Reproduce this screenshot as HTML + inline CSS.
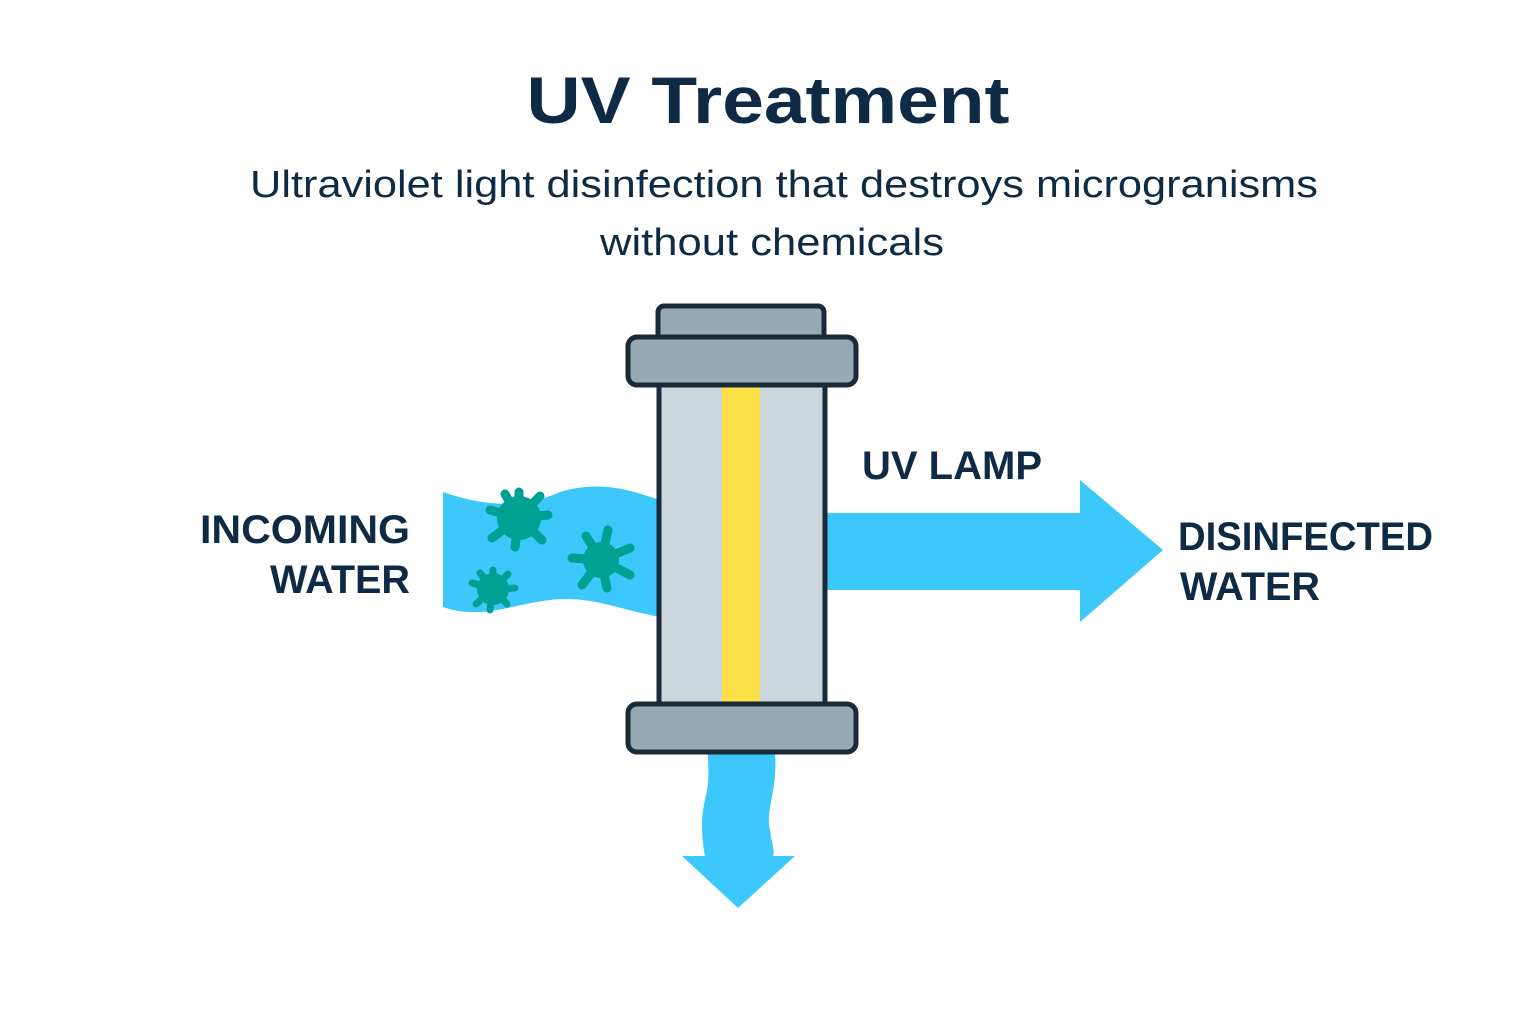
<!DOCTYPE html>
<html><head><meta charset="utf-8"><style>
html,body{margin:0;padding:0;background:#fff;}
body{width:1536px;height:1024px;overflow:hidden;}
</style></head><body>
<svg width="1536" height="1024" viewBox="0 0 1536 1024" xmlns="http://www.w3.org/2000/svg">
<rect width="1536" height="1024" fill="#fff"/>
<g font-family="Liberation Sans, DejaVu Sans, sans-serif" fill="#0f2a44" text-anchor="middle">
<text x="768" y="123" font-size="66" font-weight="bold" textLength="483" lengthAdjust="spacingAndGlyphs">UV Treatment</text>
<text x="784" y="197" font-size="38" textLength="1068" lengthAdjust="spacingAndGlyphs">Ultraviolet light disinfection that destroys microgranisms</text>
<text x="772" y="255" font-size="38" textLength="344" lengthAdjust="spacingAndGlyphs">without chemicals</text>
<text x="410" y="543" font-size="40" font-weight="bold" text-anchor="end" textLength="210" lengthAdjust="spacingAndGlyphs">INCOMING</text>
<text x="410" y="593" font-size="40" font-weight="bold" text-anchor="end" textLength="140" lengthAdjust="spacingAndGlyphs">WATER</text>
<text x="952" y="479" font-size="40" font-weight="bold" textLength="180" lengthAdjust="spacingAndGlyphs">UV LAMP</text>
<text x="1178" y="550" font-size="40" font-weight="bold" text-anchor="start" textLength="255" lengthAdjust="spacingAndGlyphs">DISINFECTED</text>
<text x="1180" y="600" font-size="40" font-weight="bold" text-anchor="start" textLength="140" lengthAdjust="spacingAndGlyphs">WATER</text>
</g>
<path d="M443 492 C480 505 520 510 560 492 C600 480 630 490 660 500 L660 617 C620 610 590 595 550 600 C510 605 480 620 443 607 Z" fill="#3cc8fa"/>
<g fill="#00a092" stroke="#00a092" stroke-linecap="round">
<circle cx="519" cy="518" r="22" stroke="none"/>
<g stroke-width="9">
<line x1="519" y1="518" x2="519" y2="492"/><line x1="519" y1="518" x2="540" y2="496"/><line x1="519" y1="518" x2="548" y2="515"/>
<line x1="519" y1="518" x2="542" y2="540"/><line x1="519" y1="518" x2="515" y2="547"/><line x1="519" y1="518" x2="492" y2="538"/>
<line x1="519" y1="518" x2="490" y2="510"/><line x1="519" y1="518" x2="505" y2="494"/></g>
<circle cx="601" cy="560" r="18" stroke="none"/>
<g stroke-width="9">
<line x1="601" y1="560" x2="608" y2="530"/><line x1="601" y1="560" x2="586" y2="536"/><line x1="601" y1="560" x2="630" y2="548"/>
<line x1="601" y1="560" x2="630" y2="575"/><line x1="601" y1="560" x2="607" y2="588"/><line x1="601" y1="560" x2="582" y2="585"/>
<line x1="601" y1="560" x2="572" y2="558"/></g>
<circle cx="493" cy="589" r="16" stroke="none"/>
<g stroke-width="7">
<line x1="493" y1="589" x2="493" y2="570"/><line x1="493" y1="589" x2="508" y2="574"/><line x1="493" y1="589" x2="515" y2="588"/>
<line x1="493" y1="589" x2="507" y2="604"/><line x1="493" y1="589" x2="490" y2="610"/><line x1="493" y1="589" x2="476" y2="604"/>
<line x1="493" y1="589" x2="472" y2="583"/><line x1="493" y1="589" x2="480" y2="573"/></g>
</g>
<path d="M826 513 L1080 513 L1080 480 L1163 550 L1080 622 L1080 590 L826 590 Z" fill="#3cc8fa"/>
<path d="M708 752 L775 752 C778 790 765 810 770 830 C772 845 775 850 773 856 L795 856 L738 908 L682 856 L705 856 C702 840 700 820 705 800 C710 780 708 770 708 752 Z" fill="#3cc8fa"/>
<rect x="658" y="306" width="166" height="40" rx="6" fill="#96aab5" stroke="#1b2a38" stroke-width="5"/>
<rect x="659" y="370" width="166" height="336" fill="#cbd6dd" stroke="#1b2a38" stroke-width="5"/>
<rect x="722" y="372" width="38" height="332" fill="#fde047"/>
<rect x="628" y="337" width="228" height="48" rx="9" fill="#96aab5" stroke="#1b2a38" stroke-width="5"/>
<rect x="628" y="704" width="228" height="48" rx="9" fill="#96aab5" stroke="#1b2a38" stroke-width="5"/>
</svg>
</body></html>
